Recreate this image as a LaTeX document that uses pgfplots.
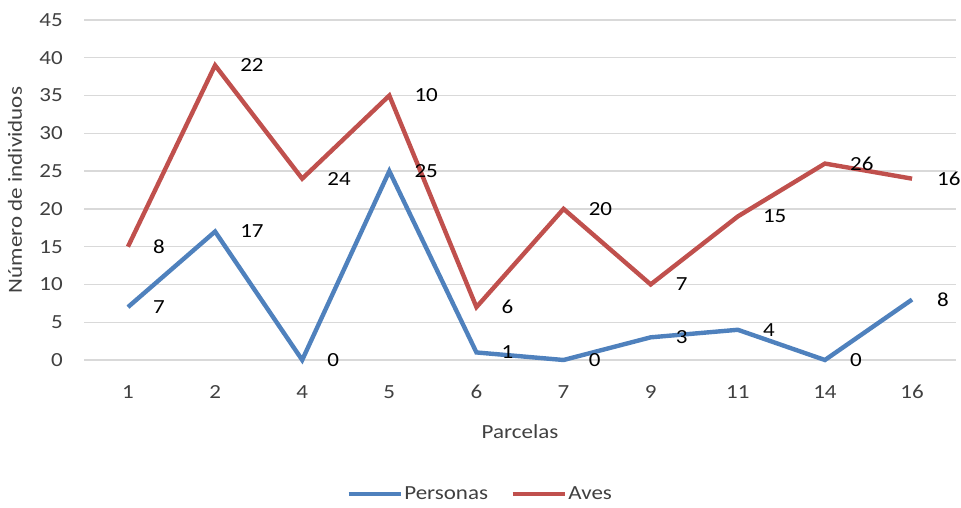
\documentclass[border=0pt]{standalone}
\usepackage{fontspec}
\setmainfont{Carlito}[FakeStretch=1.15]
\usepackage{pgfplots}
\usepackage{pgfplotstable}
\pgfplotsset{compat=1.18}
\definecolor{pblue}{HTML}{4F81BD}
\definecolor{ared}{HTML}{C0504D}
\definecolor{txt}{HTML}{404040}
\pgfplotstableread{
x p a
0 7 8
1 17 22
2 0 24
3 25 10
4 1 6
5 0 20
6 3 7
7 4 15
8 0 26
9 8 16
}\data
\begin{document}
\begin{tikzpicture}[font=\fontsize{20bp}{24bp}\selectfont]
\path[use as bounding box] (-84.4bp,-148bp) rectangle (876.6bp,360bp);
\begin{axis}[
  scale only axis,
  width=871.2bp, height=340bp,
  xmin=-0.5, xmax=9.5, ymin=0, ymax=45,
  xtick={0,...,9},
  xticklabels={1,2,4,5,6,7,9,11,14,16},
  ytick={0,5,...,45},
  /pgf/number format/assume math mode=true,
  axis line style={draw=none},
  major tick length=0pt,
  tick style={draw=none},
  ymajorgrids,
  grid style={color=black!15, line width=1.3bp},
  xticklabel style={anchor=base, inner sep=0pt, yshift=-38bp, text=txt},
  yticklabel style={anchor=east, inner sep=0pt, xshift=-21.4bp, text=txt},
  xlabel={Parcelas},
  xlabel style={at={(axis description cs:0.5,-0.212)}, anchor=center, text=txt},
  ylabel={Número de individuos},
  ylabel style={at={(axis description cs:-0.0797,0.5)}, anchor=center, rotate=0, text=txt},
  clip=false,
  stack plots=y,
  nodes near coords,
  every node near coord/.style={anchor=west, inner sep=0pt, xshift=23bp, text=black},
  legend style={at={(axis description cs:0.454,-0.394)}, anchor=center, draw=none, fill=none,
    legend columns=2, nodes={inner sep=1.5bp}, text=txt,
    /tikz/every even column/.append style={column sep=21bp}},
  legend image code/.code={\draw[#1] (0bp,0bp) -- (52bp,0bp);},
]
\addplot[pblue, line width=4.4bp, miter limit=4, no markers, point meta=explicit] table[x=x, y=p, meta=p] {\data};
\addlegendentry{Personas}
\addplot[ared, line width=4.4bp, miter limit=4, no markers, point meta=explicit] table[x=x, y=a, meta=a] {\data};
\addlegendentry{Aves}
\end{axis}
\end{tikzpicture}
\end{document}
